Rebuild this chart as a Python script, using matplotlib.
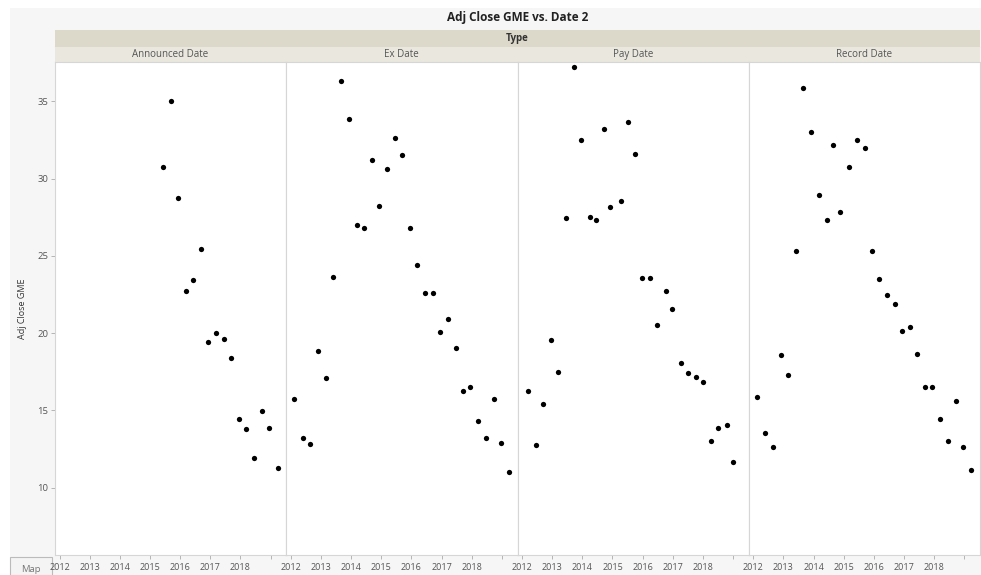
import matplotlib.pyplot as plt
from matplotlib.patches import Rectangle
from matplotlib.lines import Line2D

plt.rcParams['font.family'] = ['Open Sans', 'DejaVu Sans']

# data (decimal years, adj close)
panel_names = ['Announced Date', 'Ex Date', 'Pay Date', 'Record Date']

announced_x = [2015.44, 2015.69, 2015.93, 2016.18, 2016.43, 2016.68, 2016.94, 2017.20,
               2017.44, 2017.69, 2017.94, 2018.20, 2018.45, 2018.72, 2018.96, 2019.23]
announced_y = [30.76, 35.00, 28.74, 22.74, 23.41, 25.44, 19.42, 20.03,
               19.62, 18.41, 14.42, 13.82, 11.92, 14.94, 13.86, 11.29]

ex_x = [2012.11, 2012.39, 2012.64, 2012.91, 2013.16, 2013.41, 2013.66, 2013.93,
        2014.20, 2014.44, 2014.68, 2014.91, 2015.20, 2015.46, 2015.70, 2015.94,
        2016.20, 2016.45, 2016.71, 2016.94, 2017.23, 2017.47, 2017.71, 2017.95,
        2018.21, 2018.49, 2018.75, 2018.98, 2019.24]
ex_y = [15.72, 13.20, 12.85, 18.84, 17.12, 23.65, 36.33, 33.87,
        26.99, 26.82, 31.20, 28.20, 30.61, 32.62, 31.54, 26.82,
        24.40, 22.59, 22.59, 20.05, 20.93, 19.02, 16.25, 16.49,
        14.34, 13.24, 15.72, 12.91, 11.03]

pay_x = [2012.19, 2012.45, 2012.70, 2012.95, 2013.19, 2013.46, 2013.73, 2013.94,
         2014.24, 2014.45, 2014.72, 2014.91, 2015.28, 2015.50, 2015.75, 2015.97,
         2016.24, 2016.49, 2016.76, 2016.98, 2017.27, 2017.50, 2017.76, 2017.99,
         2018.26, 2018.51, 2018.79, 2019.01]
pay_y = [16.24, 12.78, 15.39, 19.57, 17.46, 27.47, 37.19, 32.51,
         27.49, 27.34, 33.18, 28.16, 28.54, 33.63, 31.60, 23.58,
         23.58, 20.54, 22.72, 21.56, 18.05, 17.44, 17.14, 16.82,
         13.04, 13.86, 14.08, 11.66]

record_x = [2012.11, 2012.39, 2012.64, 2012.91, 2013.16, 2013.41, 2013.66, 2013.92,
            2014.19, 2014.43, 2014.66, 2014.89, 2015.19, 2015.45, 2015.70, 2015.93,
            2016.18, 2016.44, 2016.69, 2016.93, 2017.21, 2017.44, 2017.70, 2017.94,
            2018.19, 2018.46, 2018.72, 2018.97, 2019.22]
record_y = [15.89, 13.56, 12.65, 18.58, 17.29, 25.29, 35.85, 33.01,
            28.91, 27.32, 32.19, 27.85, 30.76, 32.49, 31.95, 25.31,
            23.52, 22.44, 21.88, 20.16, 20.41, 18.63, 16.51, 16.51,
            14.46, 13.02, 15.63, 12.63, 11.16]

year_ticks = [2012, 2013, 2014, 2015, 2016, 2017, 2018, 2019]
year_labels = ['2012', '2013', '2014', '2015', '2016', '2017', '2018', '']
price_ticks = [10, 15, 20, 25, 30, 35]

series = [(announced_x, announced_y), (ex_x, ex_y), (pay_x, pay_y), (record_x, record_y)]

W, H = 981, 575
fig = plt.figure(figsize=(W / 100, H / 100), dpi=100)
fig.patch.set_facecolor('white')


def fx(px):
    return px / W


def fy(py):
    return 1 - py / H


def band(x0, y0, x1, y1, **kw):
    fig.patches.append(Rectangle((fx(x0), fy(y1)), fx(x1) - fx(x0), fy(y0) - fy(y1),
                                 transform=fig.transFigure, **kw))


# light grey report frame
band(10, 8, W, H, facecolor='#f6f6f6', edgecolor='none', zorder=-2)

left, right, top, bottom = 55, 980, 62, 555
pw = (right - left) / 4

# header bands
band(left, 30, right, 46.5, facecolor='#dcd9ca', edgecolor='none', zorder=1)
band(left, 46.5, right, top, facecolor='#e9e7de', edgecolor='none', zorder=1)
fig.lines.append(Line2D([fx(left), fx(right)], [fy(46.5), fy(46.5)],
                        transform=fig.transFigure, color='#f3f2ec', lw=0.8, zorder=1))

fig.text(fx((left + right) / 2), fy(18), 'Adj Close GME vs. Date 2',
         ha='center', va='center', fontsize=8.5, fontweight='bold', color='#222222')
fig.text(fx((left + right) / 2), fy(38.5), 'Type',
         ha='center', va='center', fontsize=7, fontweight='bold', color='#333333')

# "Map" box in the corner (under the tick labels)
band(10, 557, 52, H, facecolor='#f4f4f4', edgecolor='#bbbbbb', lw=0.8, zorder=1)
fig.text(fx(31), fy(569.5), 'Map', ha='center', va='center', fontsize=6.8,
         color='#777777', zorder=1.5)

for i, (name, (xs, ys)) in enumerate(zip(panel_names, series)):
    x0 = left + i * pw
    fig.text(fx(x0 + pw / 2), fy(54.5), name, ha='center', va='center',
             fontsize=7, color='#555555')
    if i > 0:
        fig.lines.append(Line2D([fx(x0), fx(x0)], [fy(46.5), fy(top)],
                                transform=fig.transFigure, color='#f7f6f2', lw=1, zorder=1))

    ax = fig.add_axes((fx(x0), fy(bottom), pw / W, (bottom - top) / H))
    ax.set_zorder(2)
    ax.set_facecolor('white')
    ax.plot(xs, ys, 'o', color='black', markersize=3.8, markeredgewidth=0)

    ax.set_xlim(2011.85, 2019.52)
    ax.set_ylim(5.65, 37.54)
    ax.set_xticks(year_ticks)
    ax.set_xticklabels(year_labels)
    ax.tick_params(axis='x', length=3, width=0.6, color='#aaaaaa',
                   labelsize=6.5, labelcolor='#555555', pad=3)
    ax.set_yticks(price_ticks)
    if i == 0:
        ax.tick_params(axis='y', length=3, width=0.6, color='#aaaaaa',
                       labelsize=6.8, labelcolor='#555555', pad=2)
        ax.set_ylabel('Adj Close GME', fontsize=6.5, color='#333333', labelpad=7)
    else:
        ax.tick_params(axis='y', length=0, labelleft=False)
    for sp in ax.spines.values():
        sp.set_color('#d6d6d6')
        sp.set_linewidth(0.8)

fig.savefig('out.png', dpi=100)
